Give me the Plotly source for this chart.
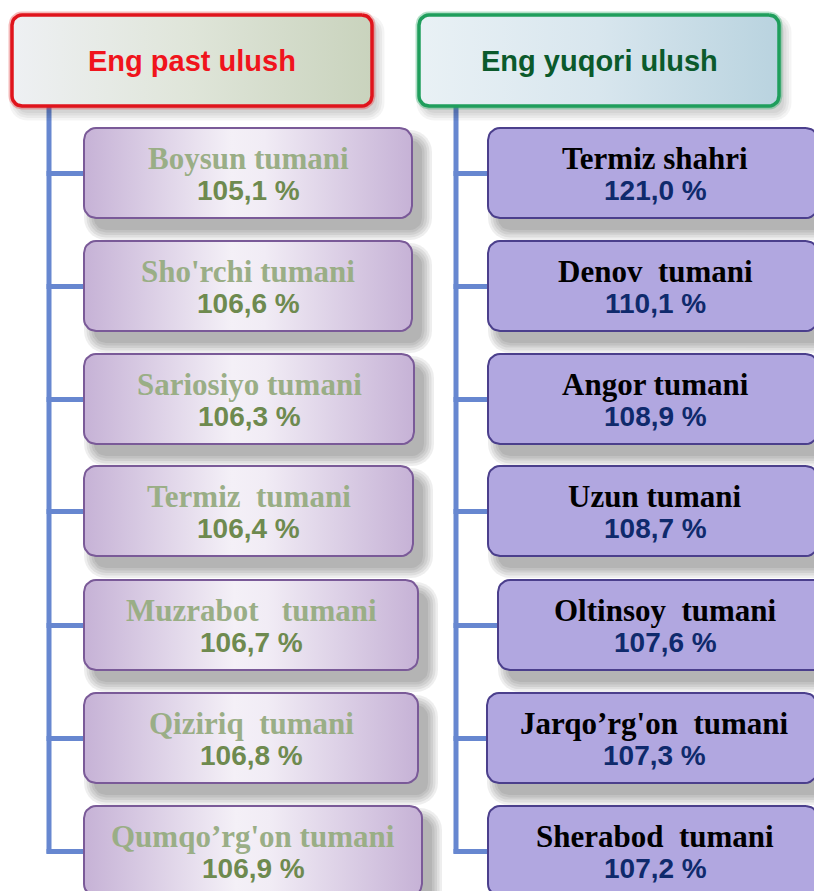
import numpy as np
import plotly.graph_objects as go

# ---------------- data ----------------
header_titles = ["Eng past ulush", "Eng yuqori ulush"]
low_names = ["Boysun tumani", "Sho'rchi tumani", "Sariosiyo tumani", "Termiz  tumani",
             "Muzrabot   tumani", "Qiziriq  tumani", "Qumqo’rg'on tumani"]
low_values = [105.1, 106.6, 106.3, 106.4, 106.7, 106.8, 106.9]
high_names = ["Termiz shahri", "Denov  tumani", "Angor tumani", "Uzun tumani",
              "Oltinsoy  tumani", "Jarqo’rg'on  tumani", "Sherabod  tumani"]
high_values = [121.0, 110.1, 108.9, 108.7, 107.6, 107.3, 107.2]

# ---------------- layout geometry ----------------
W, H = 814, 891
box_tops = [128, 241, 354, 466, 580, 693, 806]
box_h = 90
low_x0 = [84] * 7
low_x1 = [412, 412, 414, 413, 418, 418, 422]
high_x0 = [488, 488, 488, 488, 498, 487, 488]
high_w = 330
hdr_left = (12, 15, 372, 106)
hdr_right = (419, 15, 779, 106)
left_trunk_x = 49
right_trunk_x = 456


def fmt(v):
    return f"{v:.1f}".replace(".", ",") + " %"


def nb(s):
    return s.replace("  ", "\u00a0 ")


def rrect(x0, y0, x1, y1, r, n=8):
    xs, ys = [], []
    corners = [(x1 - r, y0 + r, -90, 0), (x1 - r, y1 - r, 0, 90),
               (x0 + r, y1 - r, 90, 180), (x0 + r, y0 + r, 180, 270)]
    for cx, cy, a0, a1 in corners:
        for a in np.linspace(np.radians(a0), np.radians(a1), n):
            xs.append(cx + r * np.cos(a))
            ys.append(cy + r * np.sin(a))
    xs.append(xs[0]); ys.append(ys[0])
    return xs, ys


fig = go.Figure()


def add_shadow(x0, y0, x1, y1, r, dx=10, dy=12, layers=5, alpha=0.065, step=2.5):
    for i in range(layers):
        g = (layers - 1 - i) * step
        xs, ys = rrect(x0 + dx - g, y0 + dy - g, x1 + dx + g, y1 + dy + g, r + g)
        fig.add_trace(go.Scatter(x=xs, y=ys, mode="lines", fill="toself",
                                 fillcolor=f"rgba(0,0,0,{alpha})", line=dict(width=0),
                                 hoverinfo="skip", showlegend=False))


def add_box(x0, y0, x1, y1, r, line_color, line_w, fill=None, grad=None):
    xs, ys = rrect(x0, y0, x1, y1, r)
    kw = dict(x=xs, y=ys, mode="lines", fill="toself", line=dict(color=line_color, width=line_w),
              hoverinfo="skip", showlegend=False)
    if grad is not None:
        kw["fillgradient"] = dict(type="horizontal", colorscale=grad)
    else:
        kw["fillcolor"] = fill
    fig.add_trace(go.Scatter(**kw))


# shadows
add_shadow(*hdr_left, 10, dx=5, dy=7, layers=4, alpha=0.045)
add_shadow(*hdr_right, 10, dx=5, dy=7, layers=4, alpha=0.045)
for i, t in enumerate(box_tops):
    add_shadow(low_x0[i], t, low_x1[i], t + box_h, 12)
    add_shadow(high_x0[i], t, high_x0[i] + high_w, t + box_h, 12)

# connectors
conn = dict(color="#6787d0", width=5)
shapes = []
for tx, x0s in [(left_trunk_x, low_x0), (right_trunk_x, high_x0)]:
    last_y = box_tops[-1] + box_h / 2 + 1
    shapes.append(dict(type="line", xref="x", yref="y", x0=tx, x1=tx, y0=106, y1=last_y + 1.5, line=conn))
    for i, t in enumerate(box_tops):
        yc = t + box_h / 2 + 0.5
        shapes.append(dict(type="line", xref="x", yref="y", x0=tx - 2.5, x1=x0s[i], y0=yc, y1=yc, line=conn))

# headers (glow + box)
add_box(hdr_left[0] - 2, hdr_left[1] - 2, hdr_left[2] + 2, hdr_left[3] + 2, 12, "rgba(230,60,60,0.35)", 3,
        fill="rgba(0,0,0,0)")
add_box(*hdr_left, 10, "#e0141c", 3.5,
        grad=[[0, "#eef0f3"], [0.5, "#dfe5d9"], [1, "#c9d3bd"]])
add_box(hdr_right[0] - 2, hdr_right[1] - 2, hdr_right[2] + 2, hdr_right[3] + 2, 12, "rgba(40,170,100,0.35)", 3,
        fill="rgba(0,0,0,0)")
add_box(*hdr_right, 10, "#1f9e5c", 3.5,
        grad=[[0, "#e9f1f5"], [0.5, "#d8e6ee"], [1, "#b9d3df"]])

# boxes
low_grad = [[0, "#c6b2d6"], [0.45, "#f4f0f7"], [0.55, "#f1ecf5"], [1, "#c6b2d6"]]
for i, t in enumerate(box_tops):
    add_box(low_x0[i], t, low_x1[i], t + box_h, 12, "#7a5a98", 2, grad=low_grad)
    add_box(high_x0[i], t, high_x0[i] + high_w, t + box_h, 12, "#4b3f8c", 2, fill="#b1a7e0")

annotations = []
annotations.append(dict(x=(hdr_left[0] + hdr_left[2]) / 2, y=(hdr_left[1] + hdr_left[3]) / 2,
                        text=f"<b>{header_titles[0]}</b>", showarrow=False,
                        font=dict(family="Liberation Sans, Arial", size=29, color="#f0141c")))
annotations.append(dict(x=(hdr_right[0] + hdr_right[2]) / 2, y=(hdr_right[1] + hdr_right[3]) / 2,
                        text=f"<b>{header_titles[1]}</b>", showarrow=False,
                        font=dict(family="Liberation Sans, Arial", size=29, color="#0b5a2c")))

for i, t in enumerate(box_tops):
    cxl = (low_x0[i] + low_x1[i]) / 2
    cxr = high_x0[i] + 167
    annotations.append(dict(x=cxl, y=t + 30, text=f"<b>{nb(low_names[i])}</b>", showarrow=False,
                            font=dict(family="Liberation Serif, Times New Roman", size=31, color="#9aae86")))
    annotations.append(dict(x=cxl, y=t + 62, text=f"<b>{fmt(low_values[i])}</b>", showarrow=False,
                            font=dict(family="Liberation Sans, Arial", size=28, color="#6e8a4f")))
    annotations.append(dict(x=cxr, y=t + 30, text=f"<b>{nb(high_names[i])}</b>", showarrow=False,
                            font=dict(family="Liberation Serif, Times New Roman", size=31, color="#000000")))
    annotations.append(dict(x=cxr, y=t + 62, text=f"<b>{fmt(high_values[i])}</b>", showarrow=False,
                            font=dict(family="Liberation Sans, Arial", size=28, color="#0f2a6c")))

for a in annotations:
    a.update(xref="x", yref="y", xanchor="center", yanchor="middle")

fig.update_layout(
    width=W, height=H, margin=dict(l=0, r=0, t=0, b=0),
    paper_bgcolor="white", plot_bgcolor="white",
    xaxis=dict(range=[0, W], visible=False, fixedrange=True),
    yaxis=dict(range=[H, 0], visible=False, fixedrange=True),
    shapes=[dict(s, layer="below") for s in shapes],
    annotations=annotations, showlegend=False,
)

fig.write_html("out.html", default_width=f"{W}px", default_height=f"{H}px",
               config={"displayModeBar": False},
               post_script="document.body.style.margin='0';document.body.style.overflow='hidden';")
